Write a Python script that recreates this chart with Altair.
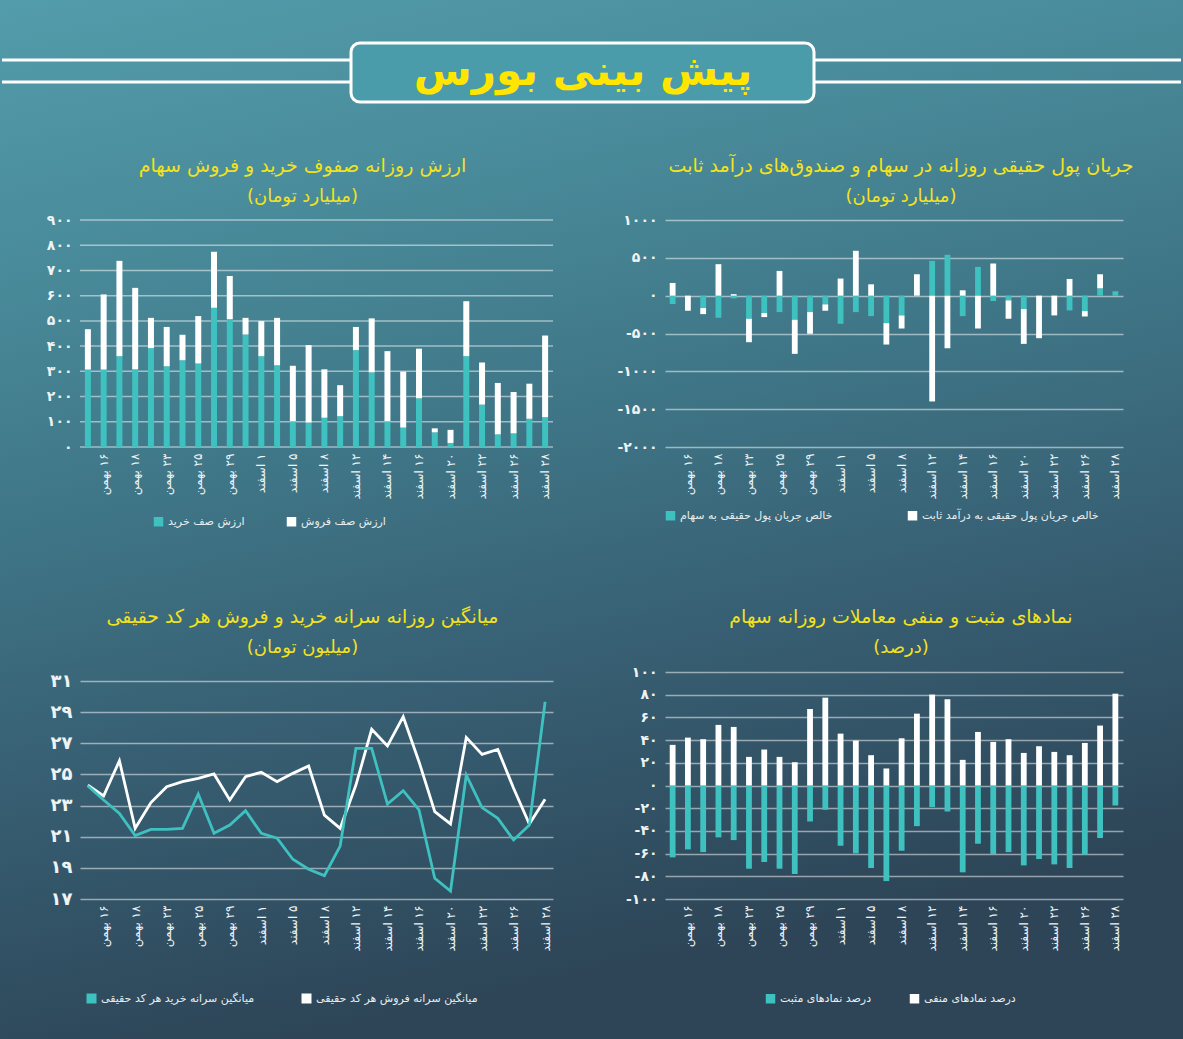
import altair as alt
import pandas as pd

# ---------------- data ----------------
days = ['۱۵ بهمن', '۱۶ بهمن', '۱۷ بهمن', '۱۸ بهمن', '۲۲ بهمن', '۲۳ بهمن', '۲۴ بهمن', '۲۵ بهمن',
        '۲۸ بهمن', '۲۹ بهمن', '۳۰ بهمن', '۱ اسفند', '۴ اسفند', '۵ اسفند', '۶ اسفند', '۸ اسفند',
        '۱۱ اسفند', '۱۲ اسفند', '۱۳ اسفند', '۱۴ اسفند', '۱۵ اسفند', '۱۶ اسفند', '۱۹ اسفند',
        '۲۰ اسفند', '۲۱ اسفند', '۲۲ اسفند', '۲۵ اسفند', '۲۶ اسفند', '۲۷ اسفند', '۲۸ اسفند']
shown_days = ['۱۶ بهمن', '۱۸ بهمن', '۲۳ بهمن', '۲۵ بهمن', '۲۹ بهمن', '۱ اسفند', '۵ اسفند',
              '۸ اسفند', '۱۲ اسفند', '۱۴ اسفند', '۱۶ اسفند', '۲۰ اسفند', '۲۲ اسفند',
              '۲۶ اسفند', '۲۸ اسفند']

# chart 1: queue values (billion toman)
buy_queue = [307, 307, 360, 308, 392, 320, 344, 331, 552, 507, 446, 360, 324, 102, 97,
             116, 122, 384, 296, 102, 77, 193, 58, 16, 360, 168, 50, 54, 112, 118]
sell_queue = [160, 298, 378, 323, 120, 156, 101, 188, 222, 171, 66, 139, 188, 220, 307,
              192, 123, 92, 214, 278, 222, 197, 16, 52, 218, 167, 204, 164, 139, 324]

# chart 2: real money flow (billion toman)
flow_stock = [-110, 0, -164, -292, -35, -305, -230, -217, -318, -217, -115, -372, -217, -270,
              -363, -261, 0, 460, 540, -270, 380, -71, -62, -177, 0, 0, -195, -204, 97, 58]
flow_fixed = [168, -199, -80, 416, 20, -310, -53, 327, -451, -287, -84, 226, 593, 150,
              -283, -173, 283, -1398, -695, 71, -434, 425, -243, -460, -562, -261, 221, -71, 186, 0]

# chart 3: per-capita averages (million toman)
avg_buy = [24.26, 23.36, 22.50, 21.07, 21.47, 21.47, 21.54, 23.74, 21.22, 21.75, 22.67, 21.22,
           20.90, 19.55, 18.91, 18.50, 20.40, 26.68, 26.68, 23.10, 23.96, 22.72, 18.33, 17.51,
           24.96, 22.87, 22.18, 20.79, 21.75, 29.67]
avg_sell = [24.32, 23.62, 25.88, 21.54, 23.19, 24.21, 24.54, 24.75, 25.03, 23.36, 24.86, 25.14,
            24.54, 25.07, 25.54, 22.39, 21.54, 24.32, 27.90, 26.83, 28.71, 25.82, 22.61, 21.82,
            27.38, 26.29, 26.61, 24.11, 21.82, 23.40]

# chart 4: percent of symbols
pct_white = [35.8, 42.2, 40.8, 53.4, 51.6, 25.2, 31.7, 25.2, 20.5, 67.4, 77.4, 45.7, 39.6, 26.7,
             15.0, 41.6, 63.3, 80.1, 76.0, 22.6, 47.2, 38.4, 40.8, 28.7, 34.6, 29.6, 26.7, 37.5,
             52.8, 80.9]
pct_teal = [-63.3, -56.3, -58.7, -45.7, -48.1, -73.3, -67.4, -73.3, -78.0, -31.7, -21.4, -53.1,
            -59.8, -72.7, -84.2, -57.5, -35.8, -19.1, -22.9, -76.5, -51.3, -60.4, -58.7, -70.4,
            -64.8, -69.5, -72.7, -61.0, -46.3, -17.6]

ticks1 = [0, 100, 200, 300, 400, 500, 600, 700, 800, 900]
ticks2 = [-2000, -1500, -1000, -500, 0, 500, 1000]
ticks3 = [17, 19, 21, 23, 25, 27, 29, 31]
ticks4 = [-100, -80, -60, -40, -20, 0, 20, 40, 60, 80, 100]

main_title = 'پیش بینی بورس'
t1 = 'ارزش روزانه صفوف خرید و فروش سهام'
s1 = '(میلیارد تومان)'
t2 = 'جریان پول حقیقی روزانه در سهام و صندوق‌های درآمد ثابت'
s2 = '(میلیارد تومان)'
t3 = 'میانگین روزانه سرانه خرید و فروش هر کد حقیقی'
s3 = '(میلیون تومان)'
t4 = 'نمادهای مثبت و منفی معاملات روزانه سهام'
s4 = '(درصد)'

lab_buy_q, lab_sell_q = 'ارزش صف خرید', 'ارزش صف فروش'
lab_stock, lab_fixed = 'خالص جریان پول حقیقی به سهام', 'خالص جریان پول حقیقی به درآمد ثابت'
lab_avg_buy, lab_avg_sell = 'میانگین سرانه خرید هر کد حقیقی', 'میانگین سرانه فروش هر کد حقیقی'
lab_pos, lab_neg = 'درصد نمادهای مثبت', 'درصد نمادهای منفی'

# ---------------- style ----------------
BG = '#41788a'
TEAL = '#3fc1c0'
WHITE = '#ffffff'
YELLOW = '#f3e21c'
FONT = 'DejaVu Sans'
OX, OY = 80, 220  # page position of the first plot area
PAGE_W, PAGE_H = 1183, 1039
LRM = '\u200e'
GRID = dict(color='#ffffff', opacity=0.5, strokeWidth=1.5)

FA = str.maketrans('0123456789', '۰۱۲۳۴۵۶۷۸۹')


def fa(v):
    return str(v).translate(FA)


def label_expr(values):
    expr = "''"
    for v in reversed(values):
        expr = f"datum.value == {v} ? '{fa(v)}' : {expr}"
    return expr


# show every other date; day number placed next to the axis
x_label_expr = ("indexof([" + ",".join(f"'{d}'" for d in shown_days) + "], datum.value) >= 0 ? "
                "split(datum.value, ' ')[1] + '" + LRM + " ' + split(datum.value, ' ')[0] : ''")


def x_axis(z=0):
    return alt.Axis(title=None, labelAngle=270, labelExpr=x_label_expr, grid=False,
                    labelFontSize=12, labelPadding=6, labelColor='#eef3f4', zindex=z)


def y_axis(values, size=14, grid=True, z=0):
    return alt.Axis(title=None, values=values, labelExpr=label_expr(values), grid=grid,
                    labelFontSize=size, labelFontWeight='bold', labelPadding=8, zindex=z)


def legend(x, y, col_pad, line=False):
    return alt.Legend(title=None, orient='none', legendX=x, legendY=y, direction='horizontal',
                      symbolType='square', symbolSize=25 if line else 90,
                      symbolStrokeWidth=5 if line else 0,
                      labelFontSize=11, labelColor='#e9eef0', columnPadding=col_pad,
                      labelFont=FONT, labelLimit=400, labelOffset=4)


band = alt.Scale(paddingInner=0.62, paddingOuter=0.31)

# ---------------- chart 1 (also carries page background + banner) ----------------
df1 = pd.DataFrame({
    'day': days * 2,
    'series': [lab_buy_q] * len(days) + [lab_sell_q] * len(days),
    'value': buy_queue + sell_queue,
    'ord': [0] * len(days) + [1] * len(days),
})
y1_scale = alt.Scale(domain=[0, 900], nice=False)
y1_axis = y_axis(ticks1, grid=False, z=1)
bars1 = alt.Chart(df1).mark_bar().encode(
    x=alt.X('day:N', sort=days, scale=band, axis=x_axis(z=1)),
    y=alt.Y('value:Q', stack='zero', scale=y1_scale, axis=y1_axis),
    color=alt.Color('series:N', scale=alt.Scale(domain=[lab_buy_q, lab_sell_q], range=[TEAL, WHITE]),
                    legend=legend(73, 296, 41)),
    order=alt.Order('ord:Q'),
)
grid1 = alt.Chart(pd.DataFrame({'v': ticks1})).mark_rule(**GRID).encode(
    y=alt.Y('v:Q', scale=y1_scale, axis=y1_axis))

bbase = alt.Chart(pd.DataFrame({'t': [main_title]}))
page_bg = bbase.mark_rect(fill=alt.Gradient(
    gradient='linear', x1=0, x2=0.25, y1=0, y2=1,
    stops=[alt.GradientStop(color='#539cab', offset=0.0),
           alt.GradientStop(color='#4a8d9c', offset=0.22),
           alt.GradientStop(color='#3e7485', offset=0.5),
           alt.GradientStop(color='#375e72', offset=0.72),
           alt.GradientStop(color='#2d4557', offset=1.0)])).encode(
    x=alt.value(-OX), x2=alt.value(PAGE_W - OX), y=alt.value(-OY), y2=alt.value(PAGE_H - OY))
lines = [
    bbase.mark_rule(color='white', strokeWidth=3).encode(
        x=alt.value(x0 - OX), x2=alt.value(x1 - OX), y=alt.value(yy - OY))
    for (x0, x1, yy) in [(2, 352, 60), (2, 352, 82), (813, 1181, 60), (813, 1181, 82)]
]
box = bbase.mark_rect(fill='#4b9cab', stroke='white', strokeWidth=3, cornerRadius=9).encode(
    x=alt.value(351 - OX), x2=alt.value(814 - OX), y=alt.value(43 - OY), y2=alt.value(102 - OY))
btext = bbase.mark_text(font=FONT, fontSize=42, fontWeight='bold', color='#ffe500',
                        baseline='middle', align='center').encode(
    x=alt.value(583 - OX), y=alt.value(72 - OY), text='t:N')

c1 = alt.layer(page_bg, *lines, box, btext, grid1, bars1).properties(
    width=473, height=227,
    title=alt.TitleParams(t1, subtitle=s1, anchor='middle', dx=-14, offset=-(OY - 14)))

# ---------------- chart 2 ----------------
df2 = pd.DataFrame({
    'day': days * 2,
    'series': [lab_stock] * len(days) + [lab_fixed] * len(days),
    'value': flow_stock + flow_fixed,
    'ord': [0] * len(days) + [1] * len(days),
})
c2 = alt.Chart(df2).mark_bar().encode(
    x=alt.X('day:N', sort=days, scale=band, axis=x_axis()),
    y=alt.Y('value:Q', stack='zero', scale=alt.Scale(domain=[-2000, 1000], nice=False), axis=y_axis(ticks2)),
    color=alt.Color('series:N', scale=alt.Scale(domain=[lab_stock, lab_fixed], range=[TEAL, WHITE]),
                    legend=legend(0, 290, 74)),
    order=alt.Order('ord:Q'),
).properties(width=458, height=227,
             title=alt.TitleParams(t2, subtitle=s2, anchor='middle', dx=7, offset=7))

# ---------------- chart 3 ----------------
df3 = pd.DataFrame({
    'day': days * 2,
    'series': [lab_avg_sell] * len(days) + [lab_avg_buy] * len(days),
    'value': avg_sell + avg_buy,
})
c3 = alt.Chart(df3).mark_line(strokeWidth=2.8).encode(
    x=alt.X('day:N', sort=days, scale=alt.Scale(type='point', padding=0.5), axis=x_axis()),
    y=alt.Y('value:Q', scale=alt.Scale(domain=[17, 31.58], nice=False, zero=False),
            axis=y_axis(ticks3, size=18)),
    color=alt.Color('series:N', scale=alt.Scale(domain=[lab_avg_buy, lab_avg_sell], range=[TEAL, WHITE]),
                    legend=legend(6, 321, 39, line=True)),
).properties(width=473, height=227,
             title=alt.TitleParams(t3, subtitle=s3, anchor='middle', dx=-14, offset=15))

# ---------------- chart 4 ----------------
df4 = pd.DataFrame({
    'day': days * 2,
    'series': [lab_pos] * len(days) + [lab_neg] * len(days),
    'value': pct_teal + pct_white,
    'ord': [0] * len(days) + [1] * len(days),
})
c4 = alt.Chart(df4).mark_bar().encode(
    x=alt.X('day:N', sort=days, scale=band, axis=x_axis()),
    y=alt.Y('value:Q', stack='zero', scale=alt.Scale(domain=[-100, 100], nice=False), axis=y_axis(ticks4)),
    color=alt.Color('series:N', scale=alt.Scale(domain=[lab_pos, lab_neg], range=[TEAL, WHITE]),
                    legend=legend(100, 321, 37)),
    order=alt.Order('ord:Q'),
).properties(width=458, height=227,
             title=alt.TitleParams(t4, subtitle=s4, anchor='middle', dx=7, offset=8))

chart = alt.concat(c1, c2, c3, c4, columns=2, spacing={'row': 225, 'column': 112},
                   bounds='flush').resolve_scale(color='independent').configure(
    background=BG, font=FONT, padding=0
).configure_view(stroke=None).configure_axis(
    domain=False, ticks=False, labelColor='#eef3f4', labelFont=FONT,
    gridColor='#ffffff', gridOpacity=0.5, gridWidth=1.5
).configure_title(
    font=FONT, fontSize=19, fontWeight='normal', color=YELLOW,
    subtitleColor=YELLOW, subtitleFont=FONT, subtitleFontSize=18, subtitlePadding=12
)

chart.save('out.html', embed_options={'renderer': 'svg', 'actions': False})
